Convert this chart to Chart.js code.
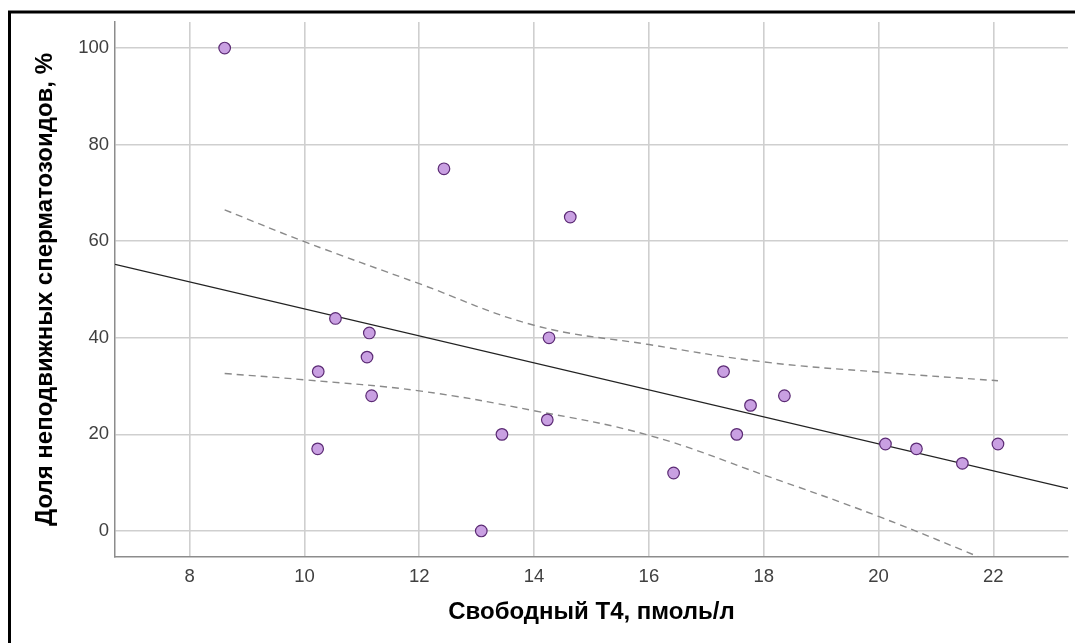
<!DOCTYPE html>
<html>
<head>
<meta charset="utf-8">
<script src="https://cdn.jsdelivr.net/npm/chart.js@4/dist/chart.umd.min.js"></script>
<style>
  html, body { margin: 0; padding: 0; background: #fff; }
  #wrap { width: 1075px; height: 643px; }
</style>
</head>
<body>
<div id="wrap"><canvas id="chart" width="1075" height="643"></canvas></div>
<script>
// free T4 (pmol/l) vs share of immotile sperm (%)
const t4 = [8.61, 12.43, 14.63, 10.54, 11.13, 11.09, 10.24, 11.17, 10.23, 14.26, 13.44,
            14.23, 13.08, 16.43, 17.30, 17.77, 17.53, 18.36, 20.12, 20.66, 21.46, 22.08];
const immotile = [100, 75, 65, 44, 41, 36, 33, 28, 17, 40, 20,
                  23, 0, 12, 33, 26, 20, 28, 18, 17, 14, 18];

// fit line, read at both ends of the x range
const fitX = [6.7, 23.3];
const fitY = [55.2, 8.8];

// 95% band around the fit
const bandX = [8.61, 10, 12, 14, 16, 18, 20, 22.08];
const upperY = [66.5, 59.9, 51.2, 42.6, 38.6, 35.0, 32.9, 31.1];
const lowerY = [32.6, 31.3, 29.0, 24.9, 19.8, 11.6, 3.0, -7.0];

const xTicks = [8, 10, 12, 14, 16, 18, 20, 22];
const yTicks = [0, 20, 40, 60, 80, 100];

const pts = (xs, ys) => xs.map((x, i) => ({ x: x, y: ys[i] }));

const frame = {
  id: 'frame',
  afterDraw(chart) {
    const c = chart.ctx;
    c.save();
    c.strokeStyle = '#000';
    c.lineWidth = 3;
    c.beginPath();
    c.moveTo(9.5, 643);
    c.lineTo(9.5, 12);
    c.lineTo(1075, 12);
    c.stroke();
    c.restore();
  }
};

const tickFont = { family: '"Liberation Sans", Arial, sans-serif', size: 18.5 };
const titleFont = { family: '"Liberation Sans", Arial, sans-serif', size: 24, weight: 'bold' };

new Chart(document.getElementById('chart'), {
  type: 'scatter',
  data: {
    datasets: [
      {
        label: 'points',
        data: pts(t4, immotile),
        pointRadius: 5.8,
        pointBackgroundColor: '#c9a0e2',
        pointBorderColor: '#5b2a74',
        pointBorderWidth: 1.2
      },
      {
        type: 'line',
        label: 'fit',
        data: pts(fitX, fitY),
        borderColor: '#222',
        borderWidth: 1.3,
        pointRadius: 0
      },
      {
        type: 'line',
        label: 'upper',
        data: pts(bandX, upperY),
        borderColor: '#8a8a8a',
        borderWidth: 1.4,
        borderDash: [7, 5],
        tension: 0.4,
        pointRadius: 0
      },
      {
        type: 'line',
        label: 'lower',
        data: pts(bandX, lowerY),
        borderColor: '#8a8a8a',
        borderWidth: 1.4,
        borderDash: [7, 5],
        tension: 0.4,
        pointRadius: 0
      }
    ]
  },
  options: {
    responsive: false,
    animation: false,
    layout: { padding: { top: 22, right: 3, left: 0, bottom: 0 } },
    plugins: { legend: { display: false }, tooltip: { enabled: false } },
    scales: {
      x: {
        type: 'linear',
        min: 6.7,
        max: 23.3,
        afterBuildTicks: s => { s.ticks = xTicks.map(v => ({ value: v })); },
        afterFit: s => { s.height = 86; },
        grid: { color: '#cfcfcf', lineWidth: 1.6, drawTicks: false },
        border: { color: '#8c8c8c', width: 1.5 },
        ticks: { font: tickFont, color: '#404040', padding: 9 },
        title: {
          display: true,
          text: 'Свободный Т4, пмоль/л',
          font: titleFont,
          color: '#000',
          padding: { bottom: 16.6 }
        }
      },
      y: {
        min: -5.4,
        max: 105.4,
        afterBuildTicks: s => { s.ticks = yTicks.map(v => ({ value: v })); },
        afterFit: s => { s.width = 115; },
        grid: { color: '#cfcfcf', lineWidth: 1.6, drawTicks: false },
        border: { color: '#8c8c8c', width: 1.5 },
        ticks: { font: tickFont, color: '#404040', padding: 6 },
        title: {
          display: true,
          text: 'Доля неподвижных сперматозоидов, %',
          font: titleFont,
          color: '#000',
          padding: { top: 30.6 }
        }
      }
    }
  },
  plugins: [frame]
});
</script>
</body>
</html>
